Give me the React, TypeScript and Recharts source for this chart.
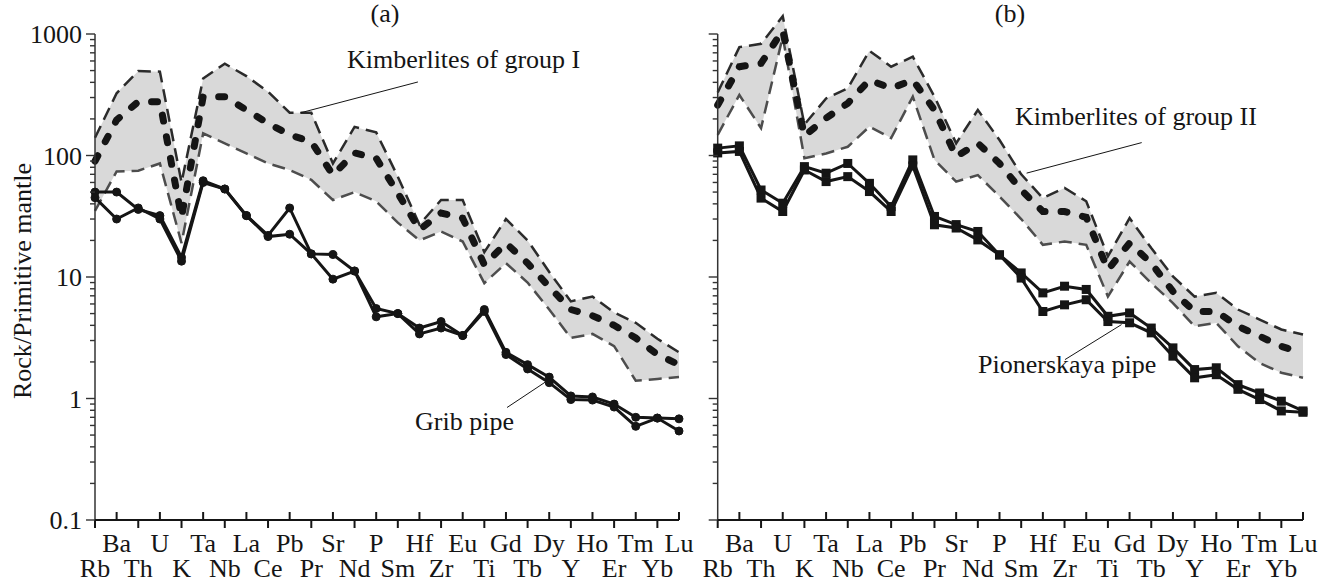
import { Area, ComposedChart, Line, ReferenceLine, XAxis, YAxis } from 'recharts';

const elements = ['Rb', 'Ba', 'Th', 'U', 'K', 'Ta', 'Nb', 'La', 'Ce', 'Pb', 'Pr', 'Sr', 'Nd', 'P', 'Sm', 'Hf', 'Zr', 'Eu', 'Ti', 'Gd', 'Tb', 'Dy', 'Y', 'Ho', 'Er', 'Tm', 'Yb', 'Lu'];

const yTicks = [
  0.1, 0.2, 0.3, 0.4, 0.5, 0.6, 0.7, 0.8, 0.9,
  1, 2, 3, 4, 5, 6, 7, 8, 9,
  10, 20, 30, 40, 50, 60, 70, 80, 90,
  100, 200, 300, 400, 500, 600, 700, 800, 900,
  1000,
];
const majorTicks = [0.1, 1, 10, 100, 1000];

// (a) kimberlites of group I + Grib pipe
const groupIUpper = [140, 325, 495, 490, 60, 430, 570, 450, 335, 225, 225, 86, 172, 155, 67, 27, 43, 43, 16, 30, 20, 11, 6.3, 6.9, 5.1, 4.2, 3.1, 2.4];
const groupIMean = [90, 196, 277, 277, 31, 305, 305, 237, 184, 148, 130, 69, 105, 95, 49, 24.5, 33.6, 30.5, 12.6, 19, 13, 8.3, 5.4, 4.8, 4.0, 3.15, 2.3, 1.9];
const groupILower = [35, 74, 75, 86, 19, 152, 126, 104, 86, 76, 63, 43, 50, 42, 28, 20, 23.7, 19.6, 8.9, 13, 9, 5.4, 3.15, 3.4, 2.7, 1.4, 1.45, 1.5];
const grib1 = [50, 50, 36, 32, 14.5, 62, 53, 32, 22, 37, 15.5, 15.3, 11.2, 5.5, 5.0, 3.8, 4.3, 3.3, 5.4, 2.4, 1.9, 1.5, 1.05, 1.03, 0.9, 0.7, 0.69, 0.68];
const grib2 = [45, 30, 37, 30, 13.5, 60, 53, 32, 21.5, 22.5, 15.5, 9.6, 11.2, 4.7, 5.0, 3.4, 3.8, 3.3, 5.2, 2.3, 1.75, 1.35, 0.98, 0.97, 0.85, 0.59, 0.69, 0.54];

// (b) kimberlites of group II + Pionerskaya pipe
const groupIIUpper = [330, 780, 830, 1400, 180, 295, 357, 728, 538, 650, 305, 126, 237, 134, 70, 44.6, 54, 42, 14.8, 30.5, 17.3, 10.1, 6.9, 7.4, 5.4, 4.46, 3.7, 3.36];
const groupIIMean = [260, 538, 573, 1070, 145, 203, 269, 418, 357, 418, 237, 98, 126, 86, 52, 34.6, 34.6, 31, 11.5, 19, 13, 7.6, 5.2, 5.2, 3.93, 3.25, 2.69, 2.37];
const groupIILower = [148, 315, 168, 950, 95, 104, 118, 173, 139, 305, 92, 61, 69, 46, 30, 18.4, 19.6, 18.4, 6.9, 13.4, 8.9, 6.1, 3.93, 4.19, 2.69, 1.96, 1.63, 1.48];
const pion1 = [115, 120, 52, 40.5, 81, 71.5, 86, 59, 38, 92, 31.5, 27, 23.7, 15.2, 10.8, 7.4, 8.4, 7.9, 4.75, 5.06, 3.8, 2.61, 1.73, 1.79, 1.3, 1.11, 0.95, 0.79];
const pion2 = [105, 108, 44.6, 34.6, 76, 61, 67, 50.5, 34.6, 82, 26.9, 25.3, 20.2, 15.2, 9.8, 5.2, 5.9, 6.5, 4.3, 4.2, 3.47, 2.23, 1.48, 1.57, 1.19, 0.98, 0.79, 0.77];

const FONT = "'Liberation Serif', 'Times New Roman', serif";
const INK = '#151515';

function buildRows(upper: number[], mean: number[], lower: number[], p1: number[], p2: number[]) {
  return elements.map((el, i) => ({
    i,
    el,
    band: [lower[i], upper[i]],
    upper: upper[i],
    mean: mean[i],
    lower: lower[i],
    pipe1: p1[i],
    pipe2: p2[i],
  }));
}

const rowsA = buildRows(groupIUpper, groupIMean, groupILower, grib1, grib2);
const rowsB = buildRows(groupIIUpper, groupIIMean, groupIILower, pion1, pion2);

function YTick({ x, y, payload, showLabel }: any) {
  const v = payload.value;
  const major = majorTicks.includes(v);
  return (
    <g>
      <line x1={x - (major ? 9 : 5)} x2={x} y1={y} y2={y} stroke="#333" strokeWidth={1.4} />
      {major && showLabel && (
        <text x={x - 13} y={y + 9} textAnchor="end" fontFamily={FONT} fontSize={26} fill={INK}>
          {v}
        </text>
      )}
    </g>
  );
}

function XTick({ x, y, payload }: any) {
  const i = payload.value;
  const up = i % 2 === 1;
  return (
    <g>
      <line x1={x} x2={x} y1={y} y2={up ? y - 8 : y + 8} stroke={INK} strokeWidth={2} />
      <text x={x} y={up ? y + 32 : y + 57} textAnchor="middle" fontFamily={FONT} fontSize={26} fill={INK}>
        {elements[i]}
      </text>
    </g>
  );
}

const squareDot = (p: any) => (
  <rect key={`sq-${p.dataKey}-${p.index}`} x={p.cx - 4.5} y={p.cy - 4.5} width={9} height={9} fill={INK} />
);

type Seg = [{ x: number; y: number }, { x: number; y: number }];

function Panel({ data, left, width, axisWidth, right, showLabels, square, leaders }: {
  data: any[]; left: number; width: number; axisWidth: number; right: number;
  showLabels: boolean; square: boolean; leaders: Seg[];
}) {
  const dot = square ? squareDot : { r: 4, fill: INK, stroke: INK, strokeWidth: 1 };
  return (
    <div style={{ position: 'absolute', left, top: 0 }}>
      <ComposedChart width={width} height={584} data={data} margin={{ top: 9.2, right, bottom: 4, left: 0 }}>
        <XAxis
          dataKey="i"
          type="number"
          domain={[0, 27]}
          ticks={elements.map((_, i) => i)}
          interval={0}
          height={60}
          tickSize={0}
          tickMargin={0}
          tickLine={false}
          axisLine={{ stroke: INK, strokeWidth: 2 }}
          tick={(p: any) => <XTick {...p} />}
        />
        <YAxis
          type="number"
          scale="log"
          domain={[0.1, 1600]}
          ticks={yTicks}
          interval={0}
          width={axisWidth}
          tickSize={0}
          tickMargin={0}
          tickLine={false}
          axisLine={false}
          tick={(p: any) => <YTick {...p} showLabel={showLabels} />}
        />
        <Area dataKey="band" type="linear" fill="#d9d9d9" fillOpacity={1} stroke="none" activeDot={false} isAnimationActive={false} />
        <Line dataKey="upper" type="linear" stroke="#2b2b2b" strokeWidth={2.5} strokeDasharray="13 7" dot={false} activeDot={false} isAnimationActive={false} />
        <Line dataKey="lower" type="linear" stroke="#4d4d4d" strokeWidth={2.5} strokeDasharray="13 7" dot={false} activeDot={false} isAnimationActive={false} />
        <Line dataKey="mean" type="linear" stroke={INK} strokeWidth={7} strokeDasharray="6 16" strokeLinecap="round" dot={false} activeDot={false} isAnimationActive={false} />
        <Line dataKey="pipe1" type="linear" stroke={INK} strokeWidth={3} dot={dot} activeDot={false} isAnimationActive={false} />
        <Line dataKey="pipe2" type="linear" stroke={INK} strokeWidth={3} dot={dot} activeDot={false} isAnimationActive={false} />
        <ReferenceLine segment={[{ x: 0, y: 0.1 }, { x: 0, y: 1000 }]} stroke="#333" strokeWidth={1.5} />
        {leaders.map((s, k) => (
          <ReferenceLine key={k} segment={s} stroke={INK} strokeWidth={1} />
        ))}
      </ComposedChart>
    </div>
  );
}

const leadersA: Seg[] = [
  [{ x: 9.48, y: 224 }, { x: 14.93, y: 403 }],
  [{ x: 19.05, y: 0.843 }, { x: 20.99, y: 1.43 }],
];
const leadersB: Seg[] = [
  [{ x: 14.25, y: 71.6 }, { x: 19.56, y: 127.7 }],
  [{ x: 16.02, y: 2.09 }, { x: 18.63, y: 4.06 }],
];

export default function App() {
  const txt = { fontFamily: FONT, fontSize: 26, fill: INK } as const;
  return (
    <div style={{ position: 'absolute', left: 0, top: 0, width: 1332, height: 584, background: '#fff' }}>
      <Panel data={rowsA} left={0} width={700} axisWidth={95} right={21} showLabels square={false} leaders={leadersA} />
      <Panel data={rowsB} left={690} width={640} axisWidth={27.7} right={27} showLabels={false} square leaders={leadersB} />
      <svg width={1332} height={584} style={{ position: 'absolute', left: 0, top: 0, pointerEvents: 'none' }}>
        <text transform="translate(31, 281) rotate(-90)" textAnchor="middle" {...txt}>Rock/Primitive mantle</text>
        <text x={385} y={22} textAnchor="middle" {...txt}>(a)</text>
        <text x={1010} y={22} textAnchor="middle" {...txt}>(b)</text>
        <text x={347} y={68} {...txt}>Kimberlites of group I</text>
        <text x={415} y={430} {...txt}>Grib pipe</text>
        <text x={1015} y={125} {...txt}>Kimberlites of group II</text>
        <text x={978} y={373} {...txt}>Pionerskaya pipe</text>
      </svg>
    </div>
  );
}
